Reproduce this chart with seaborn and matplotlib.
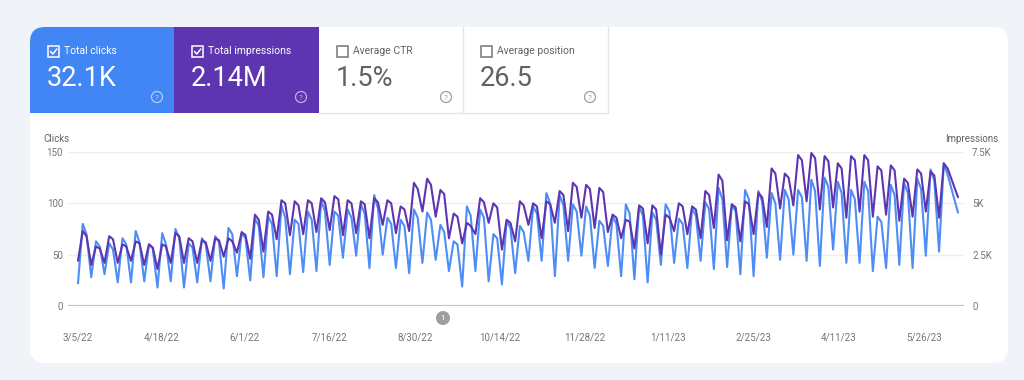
import numpy as np
import pandas as pd
import matplotlib.pyplot as plt
import seaborn as sns
from matplotlib.patches import FancyBboxPatch, Rectangle, Circle

sns.set_style('white')
plt.rcParams['font.family'] = ['Roboto', 'DejaVu Sans']

# weekly readings: low = weekend dip, high / high2 = early and late week values
start_date = '2022-03-05'
end_day = 465
clicks_low = [22, 28, 31, 23, 23, 24, 18, 24, 18, 23,
              24, 17, 29, 25, 28, 29, 31, 33, 34, 40,
              47, 49, 37, 50, 37, 32, 42, 45, 34, 19,
              34, 24, 21, 32, 44, 44, 29, 44, 49, 37,
              39, 29, 26, 23, 40, 42, 37, 44, 36, 38,
              31, 29, 47, 45, 50, 44, 39, 55, 42, 42,
              34, 37, 40, 37, 49, 53]
clicks_high = [80, 63, 61, 66, 73, 60, 71, 75, 61, 66,
               68, 76, 71, 85, 87, 98, 84, 92, 103, 92,
               94, 99, 108, 86, 84, 94, 91, 79, 63, 97,
               94, 70, 83, 78, 97, 110, 108, 99, 97, 83,
               87, 99, 97, 91, 99, 85, 95, 101, 115, 99,
               113, 112, 110, 113, 113, 123, 125, 121, 113, 121,
               87, 118, 120, 124, 133, 139]
clicks_high2 = [70, 58, 55, 60, 62, 56, 60, 66, 57, 60,
                62, 70, 66, 78, 80, 86, 80, 84, 92, 88,
                86, 90, 95, 80, 78, 86, 84, 72, 60, 88,
                86, 66, 76, 72, 90, 100, 98, 92, 88, 78,
                80, 90, 88, 84, 92, 80, 88, 94, 104, 92,
                104, 102, 100, 104, 106, 112, 116, 110, 104, 112,
                82, 108, 110, 114, 122, 128]
impressions_low = [2200, 2000, 2100, 2100, 2200, 2000, 1800, 2100, 2100, 2100,
                   2200, 2400, 2600, 2300, 2650, 3250, 3450, 3500, 3600, 3700,
                   3450, 3550, 3300, 3950, 3550, 3650, 4600, 4350, 3300, 3050,
                   3500, 4050, 2750, 3150, 3950, 3300, 4050, 3650, 4300, 3800,
                   3600, 3300, 2800, 3050, 2500, 3650, 3500, 3300, 3800, 3200,
                   3150, 3500, 3850, 4750, 4900, 5100, 4700, 4800, 4300, 4600,
                   4350, 4450, 4150, 4350, 4600, 4300]
impressions_high = [3650, 2900, 3400, 3000, 3150, 3000, 3000, 3550, 3300, 3200,
                    3300, 3300, 3600, 4450, 4600, 5150, 5100, 5150, 5250, 5350,
                    5150, 5100, 5250, 5150, 4850, 6000, 6200, 5650, 4500, 4050,
                    5250, 5000, 4200, 5100, 5000, 5100, 5600, 6000, 5900, 5750,
                    4450, 4200, 4900, 4900, 4450, 5000, 4850, 5600, 6400, 4950,
                    5100, 5500, 6700, 6450, 7350, 7450, 7300, 6950, 7300, 7350,
                    6800, 6850, 6200, 6650, 6550, 6950]
impressions_high2 = [3400, 2800, 3250, 2900, 3050, 2850, 2900, 3400, 3150, 3100,
                     3200, 3150, 3450, 4200, 4450, 5000, 4900, 5000, 5050, 5200,
                     5000, 4950, 5050, 5000, 4700, 5700, 5900, 5450, 4350, 3900,
                     5050, 4800, 4050, 4900, 4850, 4950, 5400, 5800, 5700, 5550,
                     4300, 4100, 4750, 4700, 4300, 4850, 4700, 5400, 6100, 4800,
                     4950, 5300, 6450, 6250, 7100, 7200, 7050, 6700, 7100, 7100,
                     6600, 6600, 6000, 6450, 6350, 6700]
clicks_last = 91
impressions_last = 5300

tile_names = ['Total clicks', 'Total impressions', 'Average CTR', 'Average position']
tile_values = ['32.1K', '2.14M', '1.5%', '26.5']
tick_dates = ['2022-03-05', '2022-04-18', '2022-06-01', '2022-07-16', '2022-08-30',
              '2022-10-14', '2022-11-28', '2023-01-11', '2023-02-25', '2023-04-11',
              '2023-05-26']
tick_labels = ['3/5/22', '4/18/22', '6/1/22', '7/16/22', '8/30/22', '10/14/22',
               '11/28/22', '1/11/23', '2/25/23', '4/11/23', '5/26/23']

BLUE = '#4285f4'
PURPLE = '#5e35b1'
GREY_TXT = '#757575'
BG = '#f0f3f8'

# build the table from the weekly readings
week = np.arange(len(clicks_low))
days = np.append(np.column_stack([week * 7, week * 7 + 2.5, week * 7 + 4.5]).ravel(), end_day)
clicks = np.append(np.column_stack([clicks_low, clicks_high, clicks_high2]).ravel(),
                   clicks_last)
impressions = np.append(np.column_stack([impressions_low, impressions_high,
                                         impressions_high2]).ravel(), impressions_last)
t0 = pd.Timestamp(start_date)
df = pd.DataFrame({'date': t0 + pd.to_timedelta(days, unit='D'),
                   'clicks': clicks, 'impressions': impressions})

fig = plt.figure(figsize=(10.24, 3.8), dpi=100)
fig.patch.set_facecolor(BG)

# background layer in pixel coordinates
bg = fig.add_axes([0, 0, 1, 1])
bg.set_xlim(0, 1024)
bg.set_ylim(380, 0)
bg.axis('off')

bg.add_patch(FancyBboxPatch((30, 27), 978, 336, boxstyle='round,pad=0,rounding_size=15',
                            fc='white', ec='none'))
# blue tile, rounded only at the top left
bg.add_patch(FancyBboxPatch((30, 27), 144, 86, boxstyle='round,pad=0,rounding_size=15',
                            fc=BLUE, ec='none'))
bg.add_patch(Rectangle((90, 27), 84, 86, fc=BLUE, ec='none'))
bg.add_patch(Rectangle((30, 70), 144, 43, fc=BLUE, ec='none'))
bg.add_patch(Rectangle((174, 27), 145, 86, fc=PURPLE, ec='none'))

# borders of the white tiles
for xb in [463, 608]:
    bg.plot([xb, xb], [27, 113], color='#e3e5e8', lw=1)
bg.plot([319, 608], [113, 113], color='#e3e5e8', lw=1)

tile_left = [30, 174, 319, 463]
for i, (name, val) in enumerate(zip(tile_names, tile_values)):
    x0 = tile_left[i]
    active = i < 2
    fg = 'white' if active else '#5f6368'
    box_c = 'white' if active else '#757575'
    bg.add_patch(Rectangle((x0 + 18, 46), 11, 11, fill=False, ec=box_c, lw=1.1))
    if active:
        bg.plot([x0 + 20.5, x0 + 22.8, x0 + 26.8], [51.5, 54, 49],
                color='white', lw=1.1, solid_capstyle='round')
    bg.text(x0 + 34, 51.5, name, color=fg, fontsize=7.5, va='center', ha='left')
    bg.text(x0 + 17, 79, val, color=fg, fontsize=19.5, va='center', ha='left')
    help_c = (1, 1, 1, 0.6) if active else '#9e9e9e'
    bg.add_patch(Circle((x0 + 127, 97), 5.5, fill=False, ec=help_c, lw=0.9))
    bg.text(x0 + 127, 97.5, '?', color=help_c, fontsize=6, ha='center', va='center')

bg.text(43, 139, 'Clicks', color='#5f6368', fontsize=7, ha='left', va='center')
bg.text(998, 139, 'Impressions', color='#5f6368', fontsize=7, ha='right', va='center')

# annotation marker
bg.add_patch(Circle((443, 318), 7, fc='#9e9e9e', ec='none'))
bg.text(443, 318.5, '1', color='white', fontsize=6, ha='center', va='center')

# chart axes
left, right, top, bottom = 68, 964, 152, 306
ax = fig.add_axes([left / 1024, 1 - bottom / 380, (right - left) / 1024, (bottom - top) / 380])
ax.set_facecolor('none')
sns.lineplot(data=df, x='date', y='clicks', ax=ax, color='#4d8df5', linewidth=1.5,
             estimator=None)
ax.set_ylim(0, 150)
ax.set_yticks([0, 50, 100, 150])
ax.set_yticklabels(['0', '50', '100', '150'])
px_day = (958 - 78) / end_day
ax.set_xlim(t0 - pd.Timedelta(days=(78 - left) / px_day),
            t0 + pd.Timedelta(days=end_day + (right - 958) / px_day))
ax.set_xticks(pd.to_datetime(tick_dates))
ax.set_xticklabels(tick_labels)
ax.grid(axis='y', color='#eeeeee', lw=1)
ax.grid(axis='x', visible=False)
ax.axhline(0, color='#c4c4c4', lw=1.6, zorder=1)
ax.tick_params(axis='y', length=0, pad=3.6, labelsize=7, labelcolor=GREY_TXT)
ax.tick_params(axis='x', length=0, pad=19, labelsize=7, labelcolor=GREY_TXT)
ax.set_xlabel('')
ax.set_ylabel('')
for s in ax.spines.values():
    s.set_visible(False)

ax2 = ax.twinx()
sns.lineplot(data=df, x='date', y='impressions', ax=ax2, color=PURPLE, linewidth=1.5,
             estimator=None)
ax2.set_ylim(0, 7500)
ax2.set_yticks([0, 2500, 5000, 7500])
ax2.set_yticklabels(['0', '2.5K', '5K', '7.5K'])
ax2.tick_params(axis='y', length=0, pad=5.8, labelsize=7, labelcolor=GREY_TXT)
ax2.set_ylabel('')
ax2.grid(False)
for s in ax2.spines.values():
    s.set_visible(False)

fig.savefig('out.png', dpi=100, facecolor=BG)
